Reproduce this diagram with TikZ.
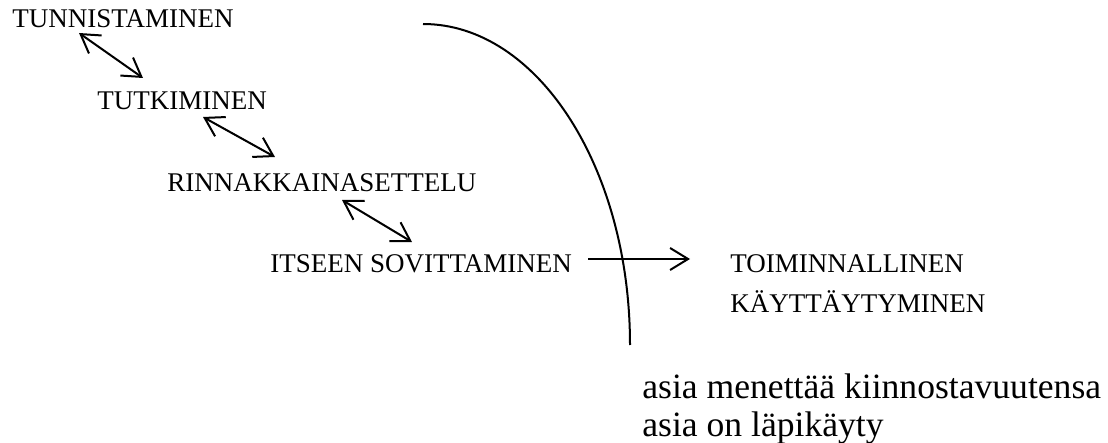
\documentclass[tikz,border=0pt]{standalone}
\usepackage{fontspec}
\setmainfont{Liberation Serif}
\usetikzlibrary{arrows.meta}
\begin{document}
\begin{tikzpicture}[x=0.5pt,y=-0.5pt,
  lbl/.style={anchor=base west,inner sep=0pt,font=\fontsize{13.5}{15}\selectfont},
  note/.style={anchor=base west,inner sep=0pt,font=\fontsize{17.8}{20}\selectfont},
  link/.style={line width=1pt,{Straight Barb[length=9pt,width=11pt]}-{Straight Barb[length=9pt,width=11pt]}},
  flow/.style={line width=1pt,-{Straight Barb[length=9pt,width=11pt]}}]
\useasboundingbox (0,0) rectangle (1108,443);
\node[lbl] (tunn) at (12,28) {TUNNISTAMINEN};
\node[lbl] (tutk) at (97,110) {TUTKIMINEN};
\node[lbl] (rinn) at (167,192) {RINNAKKAINASETTELU};
\node[lbl] (itse) at (270,272) {ITSEEN SOVITTAMINEN};
\node[lbl] (toim) at (730,272) {TOIMINNALLINEN};
\node[lbl] (kayt) at (730,313) {KÄYTTÄYTYMINEN};
\node[note] (asia1) at (642,398) {asia menettää kiinnostavuutensa};
\node[note] (asia2) at (642,436) {asia on läpikäyty};
\coordinate (a1s) at (79,33);  \coordinate (a1e) at (143,78);
\coordinate (a2s) at (203,117); \coordinate (a2e) at (275,157);
\coordinate (a3s) at (342,200); \coordinate (a3e) at (412,242);
\coordinate (a4s) at (588,259); \coordinate (a4e) at (690,259);
\draw[link] (a1s) -- (a1e);
\draw[link] (a2s) -- (a2e);
\draw[link] (a3s) -- (a3e);
\draw[flow] (a4s) -- (a4e);
\draw[line width=1pt] (423,24) arc[start angle=-90,end angle=0,x radius=207,y radius=321];
\end{tikzpicture}
\end{document}
